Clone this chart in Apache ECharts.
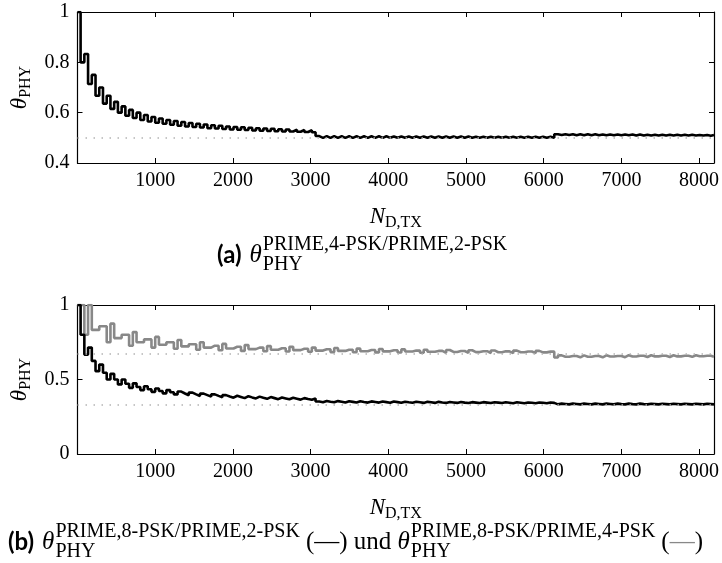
<!DOCTYPE html>
<html>
<head>
<meta charset="utf-8">
<script src="https://cdn.jsdelivr.net/npm/echarts@6/dist/echarts.min.js"></script>
<style>
  html, body { margin: 0; background: #fff; }
  #chart { width: 722px; height: 563px; }
</style>
</head>
<body>
<div id="chart"></div>
<script>
// one value per 2-PSK symbol step (48 bits each, first step starts at 0)
const stepBits = 48
const stepOffset = 8
const xMax = 8192
const xTickStep = 1000

// theta PRIME,4-PSK / PRIME,2-PSK
const theta4over2 = [
  1, 0.8, 0.833, 0.714, 0.75, 0.667, 0.7, 0.636, 0.667, 0.615, 0.643, 0.6,
  0.625, 0.588, 0.611, 0.579, 0.6, 0.571, 0.591, 0.565, 0.583, 0.56, 0.577, 0.556,
  0.571, 0.552, 0.567, 0.548, 0.563, 0.545, 0.559, 0.543, 0.556, 0.541, 0.553, 0.538,
  0.55, 0.537, 0.548, 0.535, 0.545, 0.533, 0.543, 0.532, 0.542, 0.531, 0.54, 0.529,
  0.538, 0.528, 0.537, 0.527, 0.536, 0.526, 0.534, 0.525, 0.533, 0.525, 0.532, 0.524,
  0.531, 0.523, 0.53, 0.522, 0.507, 0.5, 0.507, 0.5, 0.507, 0.5, 0.506, 0.5,
  0.506, 0.5, 0.506, 0.5, 0.506, 0.5, 0.506, 0.5, 0.506, 0.5, 0.506, 0.5,
  0.505, 0.5, 0.505, 0.5, 0.505, 0.5, 0.505, 0.5, 0.505, 0.5, 0.505, 0.5,
  0.505, 0.5, 0.505, 0.5, 0.505, 0.5, 0.505, 0.5, 0.505, 0.5, 0.504, 0.5,
  0.504, 0.5, 0.504, 0.5, 0.504, 0.5, 0.504, 0.5, 0.504, 0.5, 0.504, 0.5,
  0.504, 0.5, 0.504, 0.5, 0.504, 0.5, 0.504, 0.5,
  0.514, 0.511, 0.514, 0.511, 0.514, 0.51, 0.514, 0.51, 0.514, 0.51, 0.514, 0.51,
  0.513, 0.51, 0.513, 0.51, 0.513, 0.51, 0.513, 0.51, 0.513, 0.509, 0.513, 0.509,
  0.512, 0.509, 0.512, 0.509, 0.512, 0.509, 0.512, 0.509, 0.512, 0.509, 0.512, 0.509,
  0.512, 0.509, 0.511, 0.509, 0.511, 0.508, 0.511
]

// theta PRIME,8-PSK / PRIME,2-PSK (black)
const theta8over2 = [
  1, 0.8, 0.667, 0.714, 0.625, 0.556, 0.6, 0.545, 0.5, 0.538, 0.5, 0.467,
  0.5, 0.471, 0.444, 0.474, 0.45, 0.429, 0.455, 0.435, 0.417, 0.44, 0.423, 0.407,
  0.429, 0.414, 0.4, 0.419, 0.406, 0.394, 0.412, 0.4, 0.389, 0.405, 0.395, 0.385,
  0.4, 0.39, 0.381, 0.395, 0.386, 0.378, 0.391, 0.383, 0.375, 0.388, 0.38, 0.373,
  0.385, 0.377, 0.37, 0.382, 0.375, 0.368, 0.379, 0.373, 0.367, 0.377, 0.371, 0.365,
  0.375, 0.369, 0.364, 0.373, 0.352, 0.347, 0.356, 0.351, 0.347, 0.355, 0.351, 0.346,
  0.354, 0.35, 0.346, 0.354, 0.349, 0.345, 0.353, 0.349, 0.345, 0.352, 0.348, 0.344,
  0.352, 0.348, 0.344, 0.351, 0.347, 0.344, 0.351, 0.347, 0.343, 0.35, 0.347, 0.343,
  0.35, 0.346, 0.343, 0.349, 0.346, 0.343, 0.349, 0.345, 0.342, 0.348, 0.345, 0.342,
  0.348, 0.345, 0.342, 0.347, 0.345, 0.342, 0.347, 0.344, 0.341, 0.347, 0.344, 0.341,
  0.346, 0.344, 0.341, 0.346, 0.344, 0.341, 0.346, 0.343,
  0.333, 0.338, 0.336, 0.333, 0.338, 0.336, 0.333, 0.338, 0.336, 0.333, 0.338, 0.336,
  0.333, 0.338, 0.336, 0.333, 0.338, 0.335, 0.333, 0.338, 0.335, 0.333, 0.338, 0.335,
  0.333, 0.337, 0.335, 0.333, 0.337, 0.335, 0.333, 0.337, 0.335, 0.333, 0.337, 0.335,
  0.333, 0.337, 0.335, 0.333, 0.337, 0.335, 0.333
]

// theta PRIME,8-PSK / PRIME,4-PSK (grey)
const theta8over4 = [
  1, 1, 0.8, 1, 0.833, 0.833, 0.857, 0.857, 0.75, 0.875, 0.778, 0.778,
  0.8, 0.8, 0.727, 0.818, 0.75, 0.75, 0.769, 0.769, 0.714, 0.786, 0.733, 0.733,
  0.75, 0.75, 0.706, 0.765, 0.722, 0.722, 0.737, 0.737, 0.7, 0.75, 0.714, 0.714,
  0.727, 0.727, 0.696, 0.739, 0.708, 0.708, 0.72, 0.72, 0.692, 0.731, 0.704, 0.704,
  0.714, 0.714, 0.69, 0.724, 0.7, 0.7, 0.71, 0.71, 0.688, 0.719, 0.697, 0.697,
  0.706, 0.706, 0.686, 0.714, 0.694, 0.694, 0.703, 0.703, 0.684, 0.711, 0.692, 0.692,
  0.7, 0.7, 0.683, 0.707, 0.69, 0.69, 0.698, 0.698, 0.682, 0.705, 0.689, 0.689,
  0.696, 0.696, 0.681, 0.702, 0.688, 0.688, 0.694, 0.694, 0.68, 0.7, 0.686, 0.686,
  0.692, 0.692, 0.679, 0.698, 0.685, 0.685, 0.691, 0.691, 0.679, 0.696, 0.684, 0.684,
  0.69, 0.69, 0.678, 0.695, 0.683, 0.683, 0.689, 0.689, 0.677, 0.694, 0.683, 0.683,
  0.688, 0.688, 0.677, 0.692, 0.682, 0.682, 0.687, 0.687,
  0.648, 0.662, 0.653, 0.653, 0.658, 0.658, 0.649, 0.662, 0.653, 0.653, 0.658, 0.658,
  0.649, 0.662, 0.654, 0.654, 0.658, 0.658, 0.65, 0.663, 0.654, 0.654, 0.659, 0.659,
  0.651, 0.663, 0.655, 0.655, 0.659, 0.659, 0.651, 0.663, 0.655, 0.655, 0.659, 0.659,
  0.652, 0.663, 0.656, 0.656, 0.659, 0.659, 0.652
]

// asymptotes (dotted)
const limitTop = [0.5]
const limitBottom = [1 / 3, 2 / 3]

const serif = 'Liberation Serif'

function toSteps(values) {
  const pts = values.map((v, i) => [Math.max(0, stepBits * i - stepOffset), v])
  pts.push([xMax, values[values.length - 1]])
  return pts
}

const nameRich = {
  it: { fontFamily: serif, fontStyle: 'italic', fontSize: 23, color: '#000' },
  sub: { fontFamily: serif, fontSize: 16, color: '#000', padding: [12, 0, 0, 0] },
}

function xAxes(gi) {
  const common = {
    type: 'value', gridIndex: gi, min: 0, max: xMax, interval: xTickStep,
    axisLine: { show: true, onZero: false, lineStyle: { color: '#000', width: 1.2 } },
    axisTick: { show: true, inside: true, length: 5, lineStyle: { color: '#000', width: 1 } },
    splitLine: { show: false },
  }
  return [
    {
      ...common, position: 'bottom',
      axisLabel: {
        color: '#000', fontFamily: serif, fontSize: 20, margin: 8,
        formatter: v => (v > 0 && v % xTickStep === 0 ? String(v) : ''),
      },
      name: '{it|N}{sub|D,TX}', nameLocation: 'middle', nameGap: 40,
      nameTextStyle: { rich: nameRich },
    },
    { ...common, position: 'top', axisLabel: { show: false } },
  ]
}

function yAxes(gi, min, max, interval) {
  const common = {
    type: 'value', gridIndex: gi, min, max, interval,
    axisLine: { show: true, onZero: false, lineStyle: { color: '#000', width: 1.2 } },
    axisTick: { show: true, inside: true, length: 5, lineStyle: { color: '#000', width: 1 } },
    splitLine: { show: false },
  }
  return [
    {
      ...common, position: 'left',
      axisLabel: { color: '#000', fontFamily: serif, fontSize: 20, margin: 8 },
      name: '{it|θ}{sub|PHY}', nameLocation: 'middle', nameRotate: 90, nameGap: 44,
      nameTextStyle: { rich: nameRich },
    },
    { ...common, position: 'right', axisLabel: { show: false } },
  ]
}

function dotted(values) {
  return {
    silent: true,
    symbol: 'none',
    label: { show: false },
    lineStyle: { color: '#b4b4b4', width: 1.5, type: [1.5, 6.5] },
    data: values.map(v => ({ yAxis: v })),
  }
}

// caption layout with stacked super/subscripts
const ctx = document.createElement('canvas').getContext('2d')
function textWidth(text, font) {
  ctx.font = font
  return ctx.measureText(text).width
}
const mainFont = '25px "Liberation Serif"'
const thetaFont = 'italic 25px "Liberation Serif"'
const scriptFont = '20px "Liberation Serif"'
const tagFont = 'bold 24px Lato'

function caption(x0, yMid, parts) {
  const out = []
  let x = x0
  parts.forEach(p => {
    if (p.gap) { x += p.gap; return }
    if (p.sup) {
      out.push({ type: 'text', x, y: yMid - 10, style: { text: p.sup, font: scriptFont, fill: '#000', verticalAlign: 'middle' } })
      out.push({ type: 'text', x, y: yMid + 10, style: { text: p.sub, font: scriptFont, fill: '#000', verticalAlign: 'middle' } })
      x += Math.max(textWidth(p.sup, scriptFont), textWidth(p.sub, scriptFont))
      return
    }
    out.push({ type: 'text', x, y: yMid, style: { text: p.text, font: p.font, fill: p.color || '#000', verticalAlign: 'middle' } })
    x += textWidth(p.text, p.font)
  })
  return out
}

const capA = caption(217, 255, [
  { text: '(a)', font: tagFont }, { gap: 8 },
  { text: 'θ', font: thetaFont }, { gap: 1 },
  { sup: 'PRIME,4-PSK/PRIME,2-PSK', sub: 'PHY' },
])
const capB = caption(8, 542, [
  { text: '(b)', font: tagFont }, { gap: 8 },
  { text: 'θ', font: thetaFont }, { gap: 1 },
  { sup: 'PRIME,8-PSK/PRIME,2-PSK', sub: 'PHY' }, { gap: 6 },
  { text: '(—) und ', font: mainFont },
  { text: 'θ', font: thetaFont }, { gap: 1 },
  { sup: 'PRIME,8-PSK/PRIME,4-PSK', sub: 'PHY' }, { gap: 6 },
  { text: '(', font: mainFont }, { text: '—', font: mainFont, color: '#888' }, { text: ')', font: mainFont },
])

const chart = echarts.init(document.getElementById('chart'))
chart.setOption({
  animation: false,
  backgroundColor: '#fff',
  grid: [
    { left: 69, right: 8, top: 12, height: 151 },
    { left: 69, right: 8, top: 305, height: 149 },
  ],
  xAxis: [...xAxes(0), ...xAxes(1)],
  yAxis: [...yAxes(0, 0.4, 1, 0.2), ...yAxes(1, 0, 1, 0.5)],
  series: [
    {
      name: 'PRIME,4-PSK/PRIME,2-PSK', type: 'line', xAxisIndex: 0, yAxisIndex: 0,
      step: 'end', data: toSteps(theta4over2), showSymbol: false,
      lineStyle: { color: '#000', width: 2.6 },
      markLine: dotted(limitTop),
    },
    {
      name: 'PRIME,8-PSK/PRIME,4-PSK', type: 'line', xAxisIndex: 2, yAxisIndex: 2,
      step: 'end', data: toSteps(theta8over4), showSymbol: false,
      lineStyle: { color: '#888', width: 2.6 },
    },
    {
      name: 'PRIME,8-PSK/PRIME,2-PSK', type: 'line', xAxisIndex: 2, yAxisIndex: 2,
      step: 'end', data: toSteps(theta8over2), showSymbol: false,
      lineStyle: { color: '#000', width: 2.6 },
      markLine: dotted(limitBottom),
    },
  ],
  graphic: [...capA, ...capB],
})
</script>
</body>
</html>
